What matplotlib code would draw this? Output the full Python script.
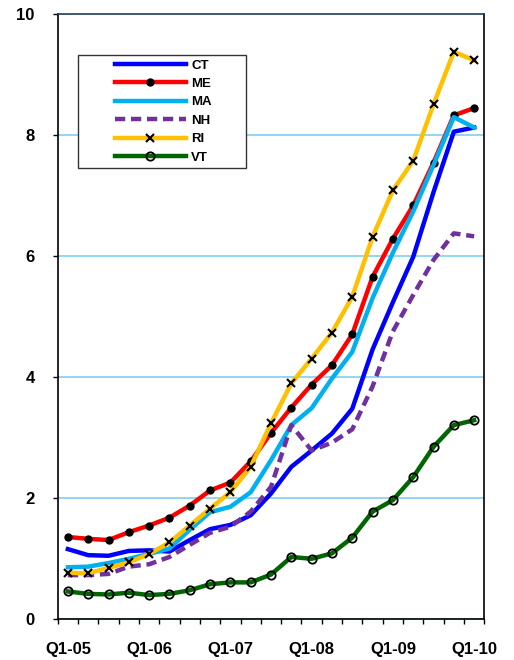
import numpy as np
import matplotlib
matplotlib.use('Agg')
import matplotlib.pyplot as plt
from matplotlib.patches import Rectangle

plt.rcParams['font.family'] = ['Liberation Sans', 'DejaVu Sans']
plt.rcParams['font.weight'] = 'bold'

quarters = ['Q1-05','Q2-05','Q3-05','Q4-05','Q1-06','Q2-06','Q3-06','Q4-06',
            'Q1-07','Q2-07','Q3-07','Q4-07','Q1-08','Q2-08','Q3-08','Q4-08',
            'Q1-09','Q2-09','Q3-09','Q4-09','Q1-10']

ct = [1.15, 1.05, 1.04, 1.12, 1.13, 1.11, 1.30, 1.48, 1.55, 1.71, 2.07, 2.51, 2.78, 3.06, 3.47, 4.45, 5.23, 5.98, 7.05, 8.05, 8.12]
me = [1.35, 1.32, 1.30, 1.43, 1.54, 1.67, 1.87, 2.12, 2.25, 2.60, 3.07, 3.49, 3.87, 4.19, 4.70, 5.65, 6.28, 6.83, 7.54, 8.32, 8.44]
ma = [0.85, 0.86, 0.92, 0.99, 1.07, 1.16, 1.47, 1.76, 1.85, 2.09, 2.62, 3.20, 3.48, 3.97, 4.41, 5.30, 6.05, 6.73, 7.50, 8.29, 8.12]
nh = [0.72, 0.72, 0.74, 0.86, 0.90, 1.02, 1.22, 1.42, 1.52, 1.77, 2.18, 3.20, 2.78, 2.91, 3.13, 3.84, 4.75, 5.35, 5.93, 6.37, 6.32]
ri = [0.76, 0.75, 0.84, 0.93, 1.07, 1.26, 1.54, 1.82, 2.09, 2.51, 3.23, 3.89, 4.30, 4.73, 5.32, 6.31, 7.08, 7.57, 8.50, 9.37, 9.23]
vt = [0.45, 0.41, 0.40, 0.43, 0.39, 0.41, 0.47, 0.57, 0.60, 0.60, 0.73, 1.02, 0.99, 1.08, 1.34, 1.77, 1.96, 2.34, 2.84, 3.20, 3.28]

x = np.arange(len(quarters))

fig = plt.figure(figsize=(5.14, 6.6), dpi=100)
ax = fig.add_axes([0.1123, 0.0626, 0.8299, 0.9166])

lw = 3.2
ax.plot(x, ct, color='#0000FF', lw=lw, label='CT')
ax.plot(x, me, color='#FF0000', lw=lw, marker='o', ms=5, mfc='black', mec='black', label='ME')
ax.plot(x, ma, color='#00B0F0', lw=lw, label='MA')
ax.plot(x, nh, color='#7030A0', lw=lw, dashes=(2.3, 1.3), dash_capstyle='butt', label='NH')
ax.plot(x, ri, color='#FFC000', lw=lw, marker='x', ms=6, mec='black', mew=1.5, label='RI')
ax.plot(x, vt, color='#006600', lw=lw, marker='o', ms=6, mfc='none', mec='black', mew=1.3, label='VT')

ax.set_xlim(-0.5, len(quarters) - 0.5)
ax.set_ylim(0, 10)
ax.set_yticks(np.arange(0, 11, 2))
ax.yaxis.grid(True, color='#80CFF0', lw=1.2)
ax.set_axisbelow(True)

ax.set_xticks(np.arange(-0.5, len(quarters), 1))
ax.set_xticklabels([])
lab_pos = x[::4]
ax.set_xticks(lab_pos, [quarters[i] for i in lab_pos], minor=True)
ax.tick_params(axis='x', which='major', direction='out', length=3.5, width=1)
ax.tick_params(axis='x', which='minor', length=0, pad=17, labelsize=12)
ax.tick_params(axis='y', direction='out', length=3.6, width=1, pad=13, labelsize=12)
for t in ax.get_xticklabels(minor=True) + ax.get_yticklabels():
    t.set_fontweight('bold')

for s in ['left', 'bottom', 'right']:
    ax.spines[s].set_color('black')
    ax.spines[s].set_linewidth(1.2)
ax.spines['top'].set_color('#2F3F4F')
ax.spines['top'].set_linewidth(1.2)

# legend frame drawn by hand, legend itself without frame
ax.add_patch(Rectangle((0.048, 0.7456), 0.3924, 0.1864, transform=ax.transAxes,
                       facecolor='white', edgecolor='#333333', lw=1, zorder=5))
leg = ax.legend(loc='upper left', bbox_to_anchor=(0.127, 0.929), frameon=False,
                handlelength=5.4, handletextpad=0.4, labelspacing=0.47,
                borderpad=0.2, borderaxespad=0, numpoints=1,
                prop={'size': 9.5, 'weight': 'bold'})
leg.set_zorder(6)

fig.savefig('out.png', dpi=100)
